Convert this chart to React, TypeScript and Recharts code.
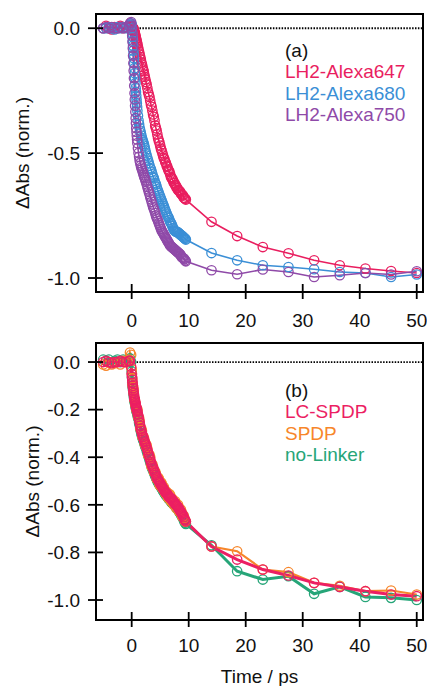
import React from "react";
import { LineChart, Line, XAxis, YAxis, ReferenceLine, ReferenceArea } from "recharts";

// time axis (ps), shared by every series in both panels
const TIME = [
  -5, -4.5, -4, -3.5, -3, -2.5, -2, -1.5, -1, -0.5, -0.3, -0.1,
  0, 0.05, 0.1, 0.15, 0.2, 0.25, 0.3, 0.35, 0.4, 0.45,
  0.5, 0.55, 0.6, 0.65, 0.7, 0.75, 0.8, 0.85, 0.9, 0.95,
  1, 1.1, 1.2, 1.3, 1.4, 1.5, 1.6, 1.7, 1.8, 1.9, 2, 2.1, 2.2, 2.3, 2.4,
  2.5, 2.625, 2.75, 2.875,
  3, 3.125, 3.25, 3.375, 3.5, 3.625, 3.75, 3.875,
  4, 4.125, 4.25, 4.375, 4.5, 4.625, 4.75, 4.875,
  5, 5.125, 5.25, 5.375, 5.5, 5.625, 5.75, 5.875,
  6, 6.125, 6.25, 6.375, 6.5, 6.625, 6.75, 6.875,
  7, 7.125, 7.25, 7.375, 7.5, 7.625, 7.75, 7.875,
  8, 8.125, 8.25, 8.375, 8.5, 8.625, 8.75, 8.875,
  9, 9.125, 9.25, 9.375, 9.5,
  14, 18.5, 23, 27.5, 32, 36.5, 41, 45.5, 50,
];

// panel (a)
const ALEXA647 = [
  0, 0.01, 0, -0.005, 0.005, 0, 0.01, 0, 0.005, 0, 0.01, 0.01,
  0.01, 0.008, 0.005, 0.002, 0, 0, 0, -0.005, -0.01, -0.012,
  -0.015, -0.02, -0.025, -0.03, -0.035, -0.04, -0.045, -0.05, -0.055, -0.06,
  -0.065, -0.075, -0.085, -0.095, -0.105, -0.115, -0.125, -0.137, -0.145, -0.155, -0.165, -0.172, -0.185, -0.195, -0.205,
  -0.215, -0.225, -0.24, -0.255,
  -0.265, -0.275, -0.29, -0.305, -0.315, -0.33, -0.345, -0.355,
  -0.37, -0.39, -0.4, -0.41, -0.425, -0.44, -0.45, -0.458,
  -0.47, -0.482, -0.49, -0.5, -0.51, -0.52, -0.525, -0.535,
  -0.54, -0.55, -0.555, -0.565, -0.57, -0.575, -0.585, -0.595,
  -0.6, -0.603, -0.61, -0.618, -0.62, -0.628, -0.63, -0.638,
  -0.64, -0.648, -0.65, -0.652, -0.655, -0.662, -0.665, -0.668,
  -0.67, -0.678, -0.68, -0.683, -0.686,
  -0.775, -0.832, -0.876, -0.901, -0.929, -0.949, -0.962, -0.972, -0.98,
];
const ALEXA680 = [
  0, 0, 0.005, 0, -0.005, 0.005, 0, 0.005, 0, 0.01, 0.015, 0.02,
  0.015, 0, -0.02, -0.035, -0.05, -0.07, -0.09, -0.105, -0.12, -0.14,
  -0.16, -0.18, -0.2, -0.22, -0.24, -0.255, -0.27, -0.285, -0.3, -0.315,
  -0.33, -0.35, -0.37, -0.385, -0.4, -0.41, -0.42, -0.43, -0.44, -0.448, -0.455, -0.462, -0.47, -0.48, -0.49,
  -0.5, -0.51, -0.52, -0.53,
  -0.54, -0.55, -0.56, -0.565, -0.575, -0.585, -0.595, -0.6,
  -0.61, -0.62, -0.625, -0.635, -0.645, -0.652, -0.66, -0.668,
  -0.675, -0.683, -0.69, -0.698, -0.705, -0.712, -0.72, -0.728,
  -0.735, -0.742, -0.75, -0.755, -0.76, -0.768, -0.775, -0.78,
  -0.785, -0.792, -0.8, -0.805, -0.81, -0.812, -0.815, -0.815,
  -0.815, -0.818, -0.82, -0.823, -0.825, -0.828, -0.83, -0.832,
  -0.835, -0.838, -0.84, -0.843, -0.846,
  -0.9, -0.929, -0.949, -0.956, -0.965, -0.976, -0.98, -0.996, -0.986,
];
const ALEXA750 = [
  0, 0.005, 0, 0.005, 0, 0, 0.005, 0, 0.005, 0.01, 0.02, 0.025,
  0.01, -0.01, -0.03, -0.055, -0.08, -0.11, -0.14, -0.17, -0.2, -0.23,
  -0.26, -0.285, -0.31, -0.335, -0.36, -0.38, -0.4, -0.415, -0.43, -0.445,
  -0.46, -0.48, -0.5, -0.515, -0.53, -0.54, -0.55, -0.558, -0.565, -0.572, -0.58, -0.588, -0.595, -0.6, -0.608,
  -0.615, -0.625, -0.635, -0.645,
  -0.655, -0.665, -0.675, -0.685, -0.695, -0.705, -0.715, -0.722,
  -0.73, -0.74, -0.75, -0.758, -0.765, -0.772, -0.78, -0.788,
  -0.795, -0.803, -0.81, -0.815, -0.82, -0.825, -0.83, -0.835,
  -0.84, -0.845, -0.85, -0.855, -0.86, -0.865, -0.87, -0.873,
  -0.875, -0.878, -0.88, -0.883, -0.885, -0.888, -0.89, -0.893,
  -0.895, -0.898, -0.9, -0.903, -0.905, -0.91, -0.915, -0.918,
  -0.92, -0.922, -0.925, -0.93, -0.933,
  -0.969, -0.985, -0.966, -0.976, -0.996, -0.989, -0.98, -0.986, -0.973,
];

// panel (b)
const LC_SPDP = [
  0, 0.005, 0, -0.005, 0, 0, 0.005, 0, 0, 0.005, 0.005, -0.02,
  -0.05, -0.062, -0.075, -0.088, -0.1, -0.11, -0.12, -0.13, -0.14, -0.148,
  -0.155, -0.16, -0.165, -0.172, -0.18, -0.185, -0.19, -0.195, -0.2, -0.205,
  -0.21, -0.22, -0.23, -0.243, -0.255, -0.268, -0.28, -0.29, -0.3, -0.308, -0.315, -0.322, -0.33, -0.337, -0.343,
  -0.35, -0.36, -0.37, -0.38,
  -0.39, -0.4, -0.41, -0.42, -0.43, -0.438, -0.445, -0.452,
  -0.46, -0.468, -0.475, -0.483, -0.49, -0.495, -0.5, -0.505,
  -0.51, -0.515, -0.52, -0.525, -0.53, -0.535, -0.54, -0.545,
  -0.55, -0.552, -0.555, -0.56, -0.565, -0.568, -0.57, -0.572,
  -0.575, -0.58, -0.585, -0.588, -0.59, -0.595, -0.6, -0.603,
  -0.605, -0.61, -0.615, -0.62, -0.625, -0.63, -0.635, -0.64,
  -0.645, -0.652, -0.66, -0.665, -0.67,
  -0.775, -0.83, -0.872, -0.897, -0.928, -0.945, -0.963, -0.977, -0.984,
];
const SPDP = [
  -0.01, -0.015, 0, -0.01, -0.005, 0, -0.01, 0.005, 0, 0.01, 0.04, 0.03,
  -0.03, -0.05, -0.07, -0.09, -0.1, -0.105, -0.115, -0.125, -0.135, -0.15,
  -0.16, -0.16, -0.17, -0.18, -0.175, -0.185, -0.195, -0.2, -0.205, -0.2,
  -0.2, -0.225, -0.235, -0.235, -0.25, -0.275, -0.285, -0.28, -0.29, -0.315, -0.32, -0.315, -0.325, -0.345, -0.34,
  -0.355, -0.35, -0.365, -0.39,
  -0.395, -0.39, -0.4, -0.43, -0.44, -0.43, -0.44, -0.46,
  -0.465, -0.46, -0.47, -0.49, -0.495, -0.485, -0.49, -0.515,
  -0.52, -0.505, -0.51, -0.53, -0.535, -0.525, -0.535, -0.55,
  -0.555, -0.545, -0.55, -0.57, -0.57, -0.555, -0.56, -0.585,
  -0.585, -0.575, -0.58, -0.6, -0.595, -0.585, -0.595, -0.615,
  -0.61, -0.6, -0.61, -0.63, -0.63, -0.62, -0.63, -0.65,
  -0.65, -0.645, -0.655, -0.67, -0.67,
  -0.775, -0.795, -0.872, -0.883, -0.928, -0.94, -0.963, -0.96, -0.977,
];
const NO_LINKER = [
  0.01, 0.005, 0.01, 0, 0.005, 0.01, 0, 0.01, 0.005, 0.01, 0.015, 0,
  -0.04, -0.065, -0.085, -0.1, -0.11, -0.12, -0.13, -0.14, -0.15, -0.158,
  -0.165, -0.17, -0.175, -0.182, -0.19, -0.195, -0.2, -0.205, -0.21, -0.215,
  -0.22, -0.232, -0.24, -0.255, -0.265, -0.28, -0.29, -0.3, -0.31, -0.318, -0.325, -0.332, -0.34, -0.348, -0.355,
  -0.36, -0.372, -0.38, -0.392,
  -0.4, -0.41, -0.42, -0.43, -0.44, -0.448, -0.455, -0.462,
  -0.47, -0.478, -0.485, -0.492, -0.5, -0.505, -0.51, -0.515,
  -0.52, -0.525, -0.53, -0.535, -0.54, -0.545, -0.55, -0.555,
  -0.56, -0.562, -0.565, -0.57, -0.575, -0.578, -0.58, -0.585,
  -0.59, -0.592, -0.595, -0.598, -0.6, -0.605, -0.61, -0.612,
  -0.615, -0.62, -0.625, -0.63, -0.635, -0.64, -0.645, -0.65,
  -0.655, -0.662, -0.67, -0.675, -0.68,
  -0.77, -0.879, -0.914, -0.9, -0.974, -0.945, -0.987, -0.991, -1.0,
];

const X_TICKS = [0, 10, 20, 30, 40, 50];
const Y_TICKS_A = [0, -0.5, -1];
const Y_TICKS_B = [0, -0.2, -0.4, -0.6, -0.8, -1];

const X_DOMAIN: [number, number] = [-6.26, 51.1];
const FONT = "'Liberation Sans', Arial, sans-serif";
const FS = 19;

const dataA = TIME.map((t, i) => ({ t, a647: ALEXA647[i], a680: ALEXA680[i], a750: ALEXA750[i] }));
const dataB = TIME.map((t, i) => ({ t, lc: LC_SPDP[i], spdp: SPDP[i], nol: NO_LINKER[i] }));

const seriesA = [
  { key: "a647", name: "LH2-Alexa647", color: "#e91e5f", width: 1.6 },
  { key: "a680", name: "LH2-Alexa680", color: "#3b8fd6", width: 1.6 },
  { key: "a750", name: "LH2-Alexa750", color: "#8f4aa8", width: 1.6 },
];
// drawn green first so the pink curve sits on top, legend order is reversed
const seriesB = [
  { key: "nol", name: "no-Linker", color: "#26a578", width: 3 },
  { key: "spdp", name: "SPDP", color: "#f7862a", width: 2.2 },
  { key: "lc", name: "LC-SPDP", color: "#ec1f63", width: 3 },
];

function YTick(props: any) {
  const { x, y, payload } = props;
  const ax = x + 16;
  return (
    <g>
      <line x1={ax - 8} x2={ax + 7} y1={y} y2={y} stroke="#000" strokeWidth={1.8} />
      <text x={x} y={y} dy="0.36em" textAnchor="end" fontSize={FS} fontFamily={FONT} fill="#111">
        {Number(payload.value).toFixed(1)}
      </text>
    </g>
  );
}

function makeXTick(margin: number) {
  return function XTick(props: any) {
    const { x, y, payload } = props;
    const ay = y - 8 - margin;
    return (
      <g>
        <line x1={x} x2={x} y1={ay - 8} y2={ay + 7} stroke="#000" strokeWidth={1.8} />
        <text x={x} y={y} dy="0.72em" textAnchor="middle" fontSize={FS} fontFamily={FONT} fill="#111">
          {payload.value}
        </text>
      </g>
    );
  };
}

function makeYLabel(lx: number) {
  return function YLabel(props: any) {
    const vb = props.viewBox || {};
    const cy = (vb.y ?? 0) + (vb.height ?? 0) / 2;
    return (
      <text
        x={lx}
        y={cy}
        transform={`rotate(-90 ${lx} ${cy})`}
        textAnchor="middle"
        fontSize={FS}
        fontFamily={FONT}
        fill="#111"
      >
        ΔAbs (norm.)
      </text>
    );
  };
}

function Panel({
  data,
  series,
  yDomain,
  yTicks,
  height,
  marginTop,
  marginBottom,
  xAxisHeight,
  xTickMargin,
  yLabelX,
  timeLabel,
}: any) {
  return (
    <LineChart
      width={427}
      height={height}
      data={data}
      margin={{ top: marginTop, right: 4, bottom: marginBottom, left: 0 }}
    >
      <XAxis
        dataKey="t"
        type="number"
        domain={X_DOMAIN}
        ticks={X_TICKS}
        allowDataOverflow
        axisLine={false}
        tickLine={false}
        tickSize={8}
        tickMargin={xTickMargin}
        height={xAxisHeight}
        interval={0}
        tick={makeXTick(xTickMargin)}
        label={
          timeLabel
            ? { value: "Time / ps", position: "insideBottom", offset: 3, fontSize: FS, fontFamily: FONT, fill: "#111" }
            : undefined
        }
      />
      <YAxis
        type="number"
        domain={yDomain}
        ticks={yTicks}
        allowDataOverflow
        axisLine={false}
        tickLine={false}
        tickSize={8}
        tickMargin={8}
        width={96}
        interval={0}
        tick={YTick}
        label={makeYLabel(yLabelX)}
      />
      <ReferenceLine y={0} stroke="#000" strokeWidth={1.8} strokeDasharray="1.5 1.4" />
      {series.map((s: any) => (
        <Line
          key={s.key}
          type="linear"
          dataKey={s.key}
          name={s.name}
          stroke={s.color}
          strokeWidth={s.width}
          dot={{ r: 4.7, fill: "none", stroke: s.color, strokeWidth: 1.3 }}
          activeDot={false}
          isAnimationActive={false}
        />
      ))}
      <ReferenceArea
        x1={X_DOMAIN[0]}
        x2={X_DOMAIN[1]}
        y1={yDomain[0]}
        y2={yDomain[1]}
        fill="none"
        stroke="#000"
        strokeWidth={2}
      />
    </LineChart>
  );
}

function LegendBlock({ title, items, top }: any) {
  return (
    <div
      style={{
        position: "absolute",
        left: 285,
        top,
        fontFamily: FONT,
        fontSize: FS,
        lineHeight: "21.4px",
        whiteSpace: "nowrap",
      }}
    >
      <div style={{ color: "#111" }}>{title}</div>
      {items.map((s: any) => (
        <div key={s.key} style={{ color: s.color }}>
          {s.name}
        </div>
      ))}
    </div>
  );
}

export default function App() {
  return (
    <div style={{ position: "absolute", left: 0, top: 0, width: 427, height: 686, background: "#fff" }}>
      <div style={{ position: "absolute", left: 0, top: 0 }}>
        <Panel
          data={dataA}
          series={seriesA}
          yDomain={[-1.056, 0.057]}
          yTicks={Y_TICKS_A}
          height={340}
          marginTop={14}
          marginBottom={8}
          xAxisHeight={40}
          xTickMargin={13}
          yLabelX={29}
          timeLabel={false}
        />
      </div>
      <div style={{ position: "absolute", left: 0, top: 330 }}>
        <Panel
          data={dataB}
          series={seriesB}
          yDomain={[-1.084, 0.08]}
          yTicks={Y_TICKS_B}
          height={356}
          marginTop={13}
          marginBottom={0}
          xAxisHeight={66}
          xTickMargin={10}
          yLabelX={39}
          timeLabel={true}
        />
      </div>
      <LegendBlock title="(a)" items={seriesA} top={40} />
      <LegendBlock title="(b)" items={[...seriesB].reverse()} top={380} />
    </div>
  );
}
